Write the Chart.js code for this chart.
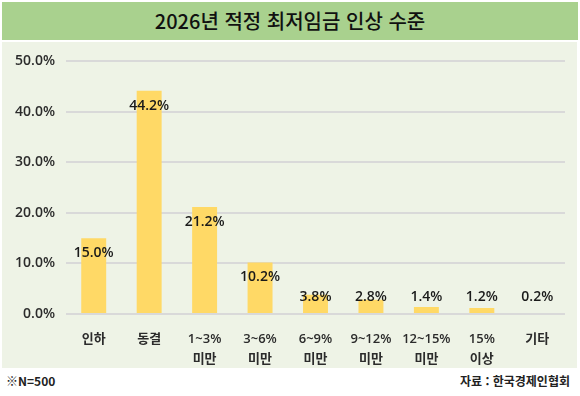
<!DOCTYPE html>
<html lang="ko">
<head>
<meta charset="utf-8">
<title>2026년 적정 최저임금 인상 수준</title>
<script src="https://cdn.jsdelivr.net/npm/chart.js@4/dist/chart.umd.min.js"></script>
<style>
    html, body { margin: 0; padding: 0; background: #fff; }
    body { width: 580px; height: 396px; position: relative; overflow: hidden;
           font-family: 'Noto Sans CJK KR', 'Noto Sans', sans-serif; }
    .banner { position: absolute; left: 2px; top: 2px; width: 576px; height: 38px;
              background: #a9d18e; color: #111; font-size: 20px; font-weight: 500;
              text-align: center; line-height: 38px; }
    .panel { position: absolute; left: 2px; top: 42px; width: 575px; height: 326px;
             background: #eef3e6; }
    .note { position: absolute; top: 372px; font-size: 12px; font-weight: 700; color: #222; }
</style>
</head>
<body>
<div class="banner">2026년 적정 최저임금 인상 수준</div>
<div class="panel"><canvas id="chart" width="575" height="326"></canvas></div>
<div class="note" style="left:6px;">※N=500</div>
<div class="note" style="right:10px;">자료 : 한국경제인협회</div>
<script>
    'use strict';

    // 응답 항목
    const categories = [
        ['인하'], ['동결'], ['1~3%', '미만'], ['3~6%', '미만'], ['6~9%', '미만'],
        ['9~12%', '미만'], ['12~15%', '미만'], ['15%', '이상'], ['기타']
    ];
    // 응답 비율 (%)
    const shares = [15.0, 44.2, 21.2, 10.2, 3.8, 2.8, 1.4, 1.2, 0.2];
    const yTicks = [0, 10, 20, 30, 40, 50];

    const BAR = '#ffd966';
    const GRID = '#d9d9d9';
    const TEXT = '#2b2b2b';
    const FONT = "'Open Sans', 'Noto Sans CJK KR', sans-serif";

    // 막대 위 값 표시
    const valueLabels = {
        id: 'valueLabels',
        afterDatasetsDraw(chart) {
            const ctx = chart.ctx;
            const meta = chart.getDatasetMeta(0);
            const bottom = chart.chartArea.bottom;
            ctx.save();
            ctx.font = '600 14px ' + FONT;
            ctx.fillStyle = '#1a1a1a';
            ctx.textAlign = 'center';
            ctx.textBaseline = 'middle';
            meta.data.forEach((bar, i) => {
                const y = Math.min(bar.y + 15, bottom - 17);
                ctx.fillText(shares[i].toFixed(1) + '%', bar.x, y);
            });
            ctx.restore();
        }
    };

    new Chart(document.getElementById('chart'), {
        type: 'bar',
        data: {
            labels: categories,
            datasets: [{
                data: shares,
                backgroundColor: BAR,
                borderWidth: 0,
                barPercentage: 0.45,
                categoryPercentage: 1.0,
            }],
        },
        options: {
            responsive: false,
            animation: false,
            layout: { padding: { left: 0, right: 12, top: 13, bottom: 0 } },
            plugins: { legend: { display: false }, tooltip: { enabled: false } },
            scales: {
                x: {
                    grid: { display: false },
                    border: { display: false },
                    ticks: {
                        color: TEXT, padding: 7, maxRotation: 0, autoSkip: false,
                        font: { family: FONT, size: 13, weight: '600', lineHeight: 1.55 },
                    },
                    afterFit(s) { s.height = 54; },
                },
                y: {
                    min: 0, max: 50,
                    afterBuildTicks(s) { s.ticks = yTicks.map(v => ({ value: v })); },
                    grid: { color: GRID, lineWidth: 2, drawTicks: false },
                    border: { display: false },
                    ticks: {
                        color: TEXT, padding: 11,
                        font: { family: FONT, size: 14, weight: '600' },
                        callback: v => v.toFixed(1) + '%',
                    },
                    afterFit(s) { s.width = 64; },
                },
            },
        },
        plugins: [valueLabels],
    });
</script>
</body>
</html>
